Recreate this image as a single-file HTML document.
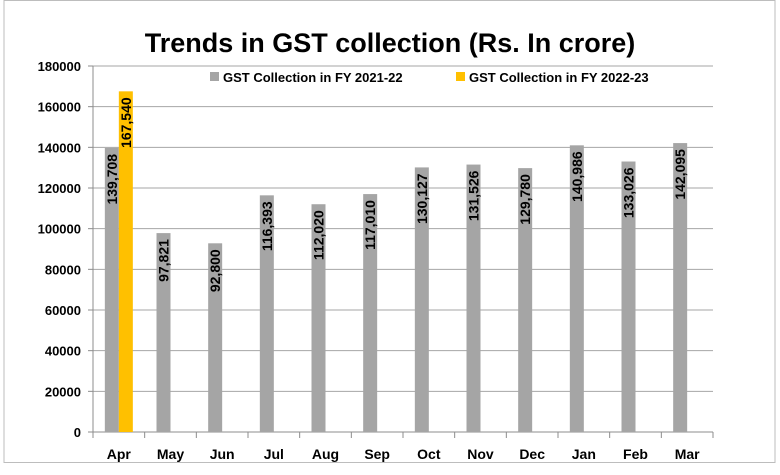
<!DOCTYPE html>
<html><head><meta charset="utf-8"><style>
body{margin:0;background:#fff;}
svg text{font-family:"Liberation Sans",sans-serif;}
</style></head><body>
<svg width="780" height="470" viewBox="0 0 780 470">
<rect x="4" y="0.5" width="771" height="462" fill="#fff" stroke="#bdbdbd"/>
<text x="390" y="52" text-anchor="middle" font-size="27" font-weight="bold" fill="#000">Trends in GST collection (Rs. In crore)</text>
<g id="grid"></g>
<g id="bars"></g>
<g>
<rect x="210" y="72" width="9" height="9" fill="#a5a5a5"/>
<text x="223" y="82" font-size="13" font-weight="bold">GST Collection in FY 2021-22</text>
<rect x="456" y="72" width="9" height="9" fill="#ffc000"/>
<text x="469" y="82" font-size="13" font-weight="bold">GST Collection in FY 2022-23</text>
</g>
</svg>
<script>
const categories=["Apr","May","Jun","Jul","Aug","Sep","Oct","Nov","Dec","Jan","Feb","Mar"];
const fy2122=[139708,97821,92800,116393,112020,117010,130127,131526,129780,140986,133026,142095];
const fy2223=[167540];
const yTicks=[0,20000,40000,60000,80000,100000,120000,140000,160000,180000];
const NS="http://www.w3.org/2000/svg";
const x0=93,x1=713,yb=432,yt=66,ymax=180000;
const cw=(x1-x0)/categories.length;
const y=v=>yb-(v/ymax)*(yb-yt);
const xc=i=>x0+cw*(i+0.5);
function mk(t,a,p){const e=document.createElementNS(NS,t);for(const k in a)e.setAttribute(k,a[k]);p.appendChild(e);return e;}
const grid=document.getElementById('grid'),bars=document.getElementById('bars');
yTicks.forEach(v=>{
 const l=mk('line',{x1:x0,x2:x1,y1:y(v),y2:y(v),stroke:v?'#a6a6a6':'#8c8c8c','stroke-width':1},grid);
 
 
 const t=mk('text',{x:x0-12,y:y(v)+5,'text-anchor':'end','font-size':13,'font-weight':'bold'},grid);
 t.textContent=v;
 
 
 const tk=mk('line',{x1:x0-5,x2:x0,y1:y(v),y2:y(v),stroke:'#8c8c8c'},grid);
 
 
});
const ax=mk('line',{x1:x0,x2:x0,y1:yt,y2:yb,stroke:'#8c8c8c'},grid);


for(let i=0;i<=categories.length;i++){
 const tk=mk('line',{x1:x0+cw*i,x2:x0+cw*i,y1:yb,y2:yb+6,stroke:'#8c8c8c'},grid);
 
 
}
function bar(v,x,color,name){
 const r=mk('rect',{x:x,y:y(v),width:14,height:yb-y(v),fill:color},bars);
 
 
 const t=mk('text',{transform:`translate(${x+12},${y(v)+6}) rotate(-90)`,'text-anchor':'end','font-size':14,'font-weight':'bold'},bars);
 t.textContent=v.toLocaleString('en-US');
 
 
}
categories.forEach((c,i)=>{
 bar(fy2122[i],xc(i)-14,'#a5a5a5','bar-2021-'+c.toLowerCase());
 if(fy2223[i]!==undefined) bar(fy2223[i],xc(i),'#ffc000','bar-2022-'+c.toLowerCase());
 const t=mk('text',{x:xc(i),y:459,'text-anchor':'middle','font-size':14,'font-weight':'bold'},grid);
 t.textContent=c;
 
 
});
</script>
</body></html>
